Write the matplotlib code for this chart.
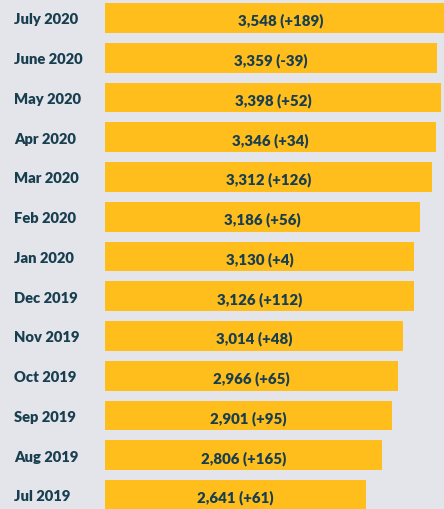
import numpy as np
import matplotlib.pyplot as plt

# --- дані ---
months = ['July 2020', 'June 2020', 'May 2020', 'Apr 2020', 'Mar 2020', 'Feb 2020',
          'Jan 2020', 'Dec 2019', 'Nov 2019', 'Oct 2019', 'Sep 2019', 'Aug 2019', 'Jul 2019']
totals = [3548, 3359, 3398, 3346, 3312, 3186, 3130, 3126, 3014, 2966, 2901, 2806, 2641]
changes = [189, -39, 52, 34, 126, 56, 4, 112, 48, 65, 95, 165, 61]

bg = '#e4e5ea'
bar_color = '#ffbe1c'
text_color = '#183f50'

plt.rcParams['font.family'] = ['Lato', 'DejaVu Sans']

fig = plt.figure(figsize=(4.44, 5.10), dpi=100, facecolor=bg)
ax = fig.add_axes([105 / 444, 0, 1 - 105 / 444, 1])
ax.set_facecolor(bg)

y = np.arange(len(months))
ax.barh(y, totals, height=0.75, color=bar_color)

for i, (t, c) in enumerate(zip(totals, changes)):
    sign = '+' if c >= 0 else '-'
    ax.text(t / 2, i + 0.05, f"{t:,} ({sign}{abs(c)})", ha='center', va='center',
            fontsize=10.8, fontweight='heavy', color=text_color)
    # підписи місяців зліва
    fig.text(14 / 444, 1 - (19 + 39.75 * i + 1) / 510, months[i], ha='left', va='center',
             fontsize=10.6, fontweight='heavy', color=text_color)

ax.set_xlim(0, 3431)
ax.set_ylim(12.35, -0.478)
ax.axis('off')

fig.savefig('out.png', dpi=100, facecolor=bg)
